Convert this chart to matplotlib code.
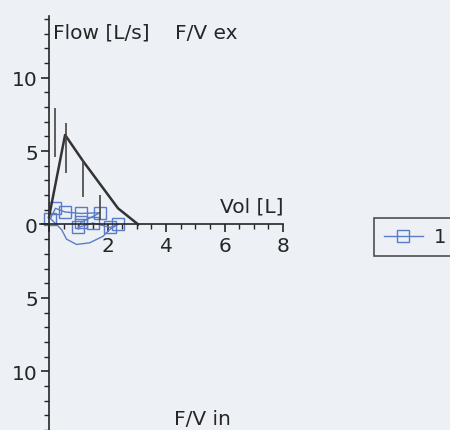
import matplotlib
import matplotlib.pyplot as plt
from matplotlib.ticker import FixedLocator

matplotlib.use('Agg')

# mean flow/volume curve (black)
mean_vol = [0.0, 0.55, 1.17, 2.36, 3.05]
mean_flow = [0.5, 6.1, 4.3, 1.1, 0.0]

# error bars on the mean curve
err_vol = [0.2, 0.58, 1.17, 1.73]
err_lo = [4.6, 3.5, 1.9, 0.3]
err_hi = [7.9, 6.9, 4.4, 2.0]

# subject 1 loop (blue squares)
s1_vol = [0.05, 0.22, 0.55, 1.1, 1.75, 1.1, 1.0, 1.5, 2.1, 2.35]
s1_flow = [0.4, 1.1, 0.85, 0.75, 0.8, 0.15, -0.2, 0.1, -0.2, 0.0]
# inspiratory part of the loop (no markers)
in_vol = [2.35, 2.07, 1.85, 1.39, 0.94, 0.6, 0.43, 0.05]
in_flow = [0.0, -0.35, -0.8, -1.25, -1.36, -1.0, -0.35, 0.4]

x_major = [0, 2, 4, 6, 8]
x_labels = ['', '2', '4', '6', '8']
y_major = [-10, -5, 0, 5, 10]
y_labels = ['10', '5', '0', '5', '10']

bg = '#edf0f4'
ink = '#262626'
blue = '#5a7cc8'

fig = plt.figure(figsize=(4.5, 4.31), dpi=100, facecolor=bg)
ax = fig.add_axes([0.0, 0.0, 283 / 450, 414 / 431], facecolor=bg)
ax.set_xlim(-49 / 29.25, 8)
ax.set_ylim(-14.0, 14.2)

ax.plot(mean_vol, mean_flow, color='#333333', lw=1.8, zorder=3)
ax.vlines(err_vol, err_lo, err_hi, color='#444444', lw=1.2, zorder=3)
ax.plot(in_vol, in_flow, color=blue, lw=1.0, zorder=2)
ax.plot(s1_vol, s1_flow, color=blue, lw=1.0, marker='s', ms=9, mfc='none',
        mec=blue, mew=1.0, label='1', zorder=2)

for side in ['top', 'right']:
    ax.spines[side].set_visible(False)
ax.spines['left'].set_position(('data', 0))
ax.spines['bottom'].set_position(('data', 0))
ax.spines['left'].set_bounds(-14, 14.2)
ax.spines['bottom'].set_bounds(-0.3, 8)
for side in ['left', 'bottom']:
    ax.spines[side].set_color(ink)
    ax.spines[side].set_linewidth(1.2)

ax.xaxis.set_major_locator(FixedLocator(x_major))
ax.xaxis.set_minor_locator(FixedLocator([i * 0.5 for i in range(1, 16)]))
ax.set_xticklabels(x_labels)
ax.yaxis.set_major_locator(FixedLocator(y_major))
ax.yaxis.set_minor_locator(FixedLocator(range(-14, 15)))
ax.set_yticklabels(y_labels)
ax.tick_params(which='major', length=6, width=1.2, color=ink, labelsize=14.5,
               labelcolor=ink, direction='out', pad=2)
ax.tick_params(which='minor', length=3.5, width=1.0, color=ink, direction='out')

ax.text(0.12, 13.1, 'Flow [L/s]', fontsize=14.5, color=ink, va='center', ha='left')
ax.text(5.37, 13.1, 'F/V ex', fontsize=14.5, color=ink, va='center', ha='center')
ax.text(8, 1.25, 'Vol [L]', fontsize=14.5, color=ink, va='center', ha='right')
ax.text(5.25, -13.2, 'F/V in', fontsize=14.5, color=ink, va='center', ha='center')

leg = fig.legend(loc='center left', bbox_to_anchor=(374 / 450, 193 / 431),
                 fontsize=14, frameon=True, fancybox=False, handlelength=2.0,
                 borderpad=0.5, handletextpad=0.6, borderaxespad=0)
leg.get_frame().set_edgecolor(ink)
leg.get_frame().set_linewidth(1.2)
leg.get_frame().set_facecolor(bg)
for t in leg.get_texts():
    t.set_color(ink)

fig.savefig('out.png', dpi=100, facecolor=bg)
